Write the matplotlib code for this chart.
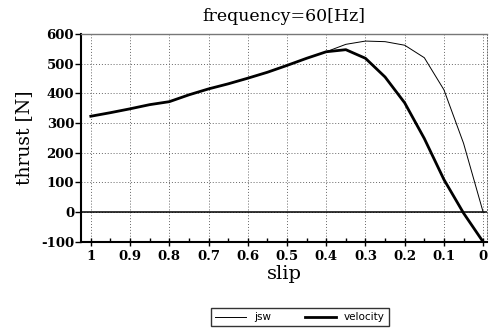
import matplotlib
matplotlib.use("Agg")
import matplotlib.pyplot as plt
from matplotlib.ticker import MultipleLocator

plt.rcParams['axes.unicode_minus'] = False

# slip values (sampled every 0.05)
slip = [1.0, 0.95, 0.9, 0.85, 0.8, 0.75, 0.7, 0.65, 0.6, 0.55, 0.5,
        0.45, 0.4, 0.35, 0.3, 0.25, 0.2, 0.15, 0.1, 0.05, 0.0]

# thrust [N]
jsw = [323, 335, 348, 362, 372, 395, 415, 432, 451, 471, 494,
       518, 540, 565, 576, 574, 562, 520, 412, 232, 0]
velocity = [323, 335, 348, 362, 372, 395, 415, 432, 451, 471, 494,
            518, 540, 547, 518, 455, 368, 248, 110, -3, -100]

serif = ['DejaVu Serif']

fig = plt.figure(figsize=(4.94, 3.36), dpi=100)
ax = fig.add_axes([0.164, 0.280, 0.822, 0.619])

ax.plot(slip, jsw, color='black', linewidth=0.7, label='jsw')
ax.plot(slip, velocity, color='black', linewidth=2.0, label='velocity')
ax.axhline(0, color='black', linewidth=1.1)

ax.set_xlim(1.025, -0.01)
ax.set_ylim(-100, 600)
ax.xaxis.set_minor_locator(MultipleLocator(0.05))
ax.yaxis.set_major_locator(MultipleLocator(100))
ax.set_xticks([1, 0.9, 0.8, 0.7, 0.6, 0.5, 0.4, 0.3, 0.2, 0.1, 0])
ax.set_xticklabels(['1', '0.9', '0.8', '0.7', '0.6', '0.5', '0.4', '0.3', '0.2', '0.1', '0'])

ax.grid(True, which='major', linestyle=(0, (1, 2)), color='#666666', linewidth=0.7)

for s in ['left', 'bottom']:
    ax.spines[s].set_linewidth(1.5)
ax.spines['top'].set_color('#777777')
ax.spines['top'].set_linewidth(1.0)
ax.spines['right'].set_linestyle((0, (1, 2)))
ax.spines['right'].set_color('#666666')
ax.spines['right'].set_linewidth(0.7)

ax.tick_params(axis='y', direction='out', length=4, width=1, pad=1)
ax.tick_params(axis='x', which='major', direction='inout', length=6, width=1, pad=3)
ax.tick_params(axis='x', which='minor', direction='in', length=3, width=1)
for lab in ax.get_xticklabels() + ax.get_yticklabels():
    lab.set_family(serif)
    lab.set_fontweight('bold')
    lab.set_fontsize(9.5)

ax.set_title('frequency=60[Hz]', family=serif, fontsize=12.5, pad=9)
ax.set_xlabel('slip', family=serif, fontsize=14, labelpad=1)
ax.set_ylabel('thrust [N]', family=serif, fontsize=13.5, labelpad=6)

leg = fig.legend(loc='center', bbox_to_anchor=(0.607, 0.056), ncol=2,
                 frameon=True, fancybox=False, edgecolor='black',
                 prop={'family': 'DejaVu Sans', 'size': 7.5},
                 handlelength=3.0, columnspacing=3.2, borderpad=0.4)
leg.get_frame().set_linewidth(1.0)

fig.savefig('out.png', dpi=100)
